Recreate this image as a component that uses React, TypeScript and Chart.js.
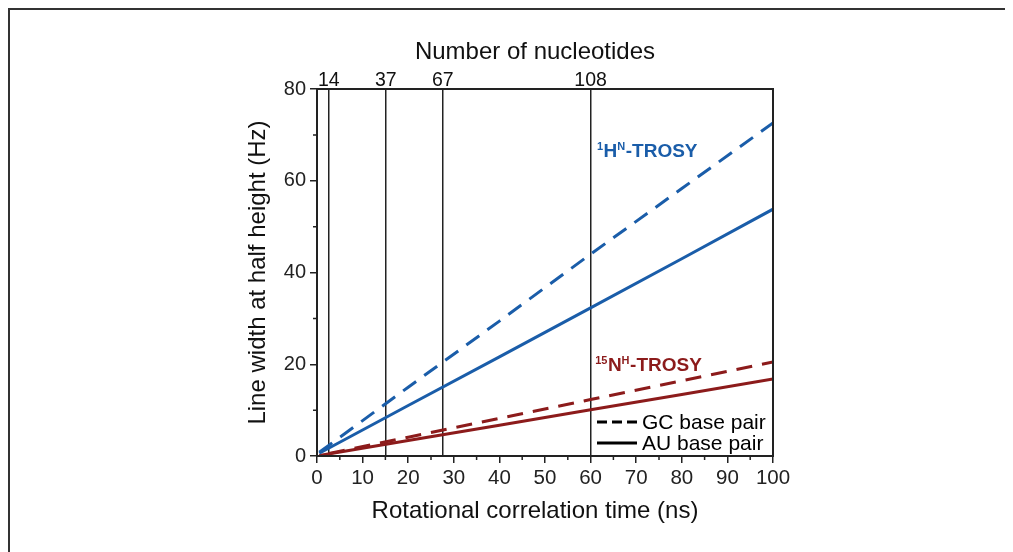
import React, { useEffect, useRef } from 'react';
import { Chart, registerables } from 'chart.js';

Chart.register(...registerables);

// Rotational correlation time (ns)
const timePoints = [0.5, 20, 40, 60, 80, 100];
// Line width at half height (Hz)
const hTrosyGC = [0.8, 15.0, 29.4, 44.0, 58.3, 72.6];
const hTrosyAU = [0.6, 11.0, 21.6, 32.3, 43.0, 53.8];
const nTrosyGC = [0.1, 4.1, 8.2, 12.3, 16.4, 20.5];
const nTrosyAU = [0.1, 3.4, 6.7, 10.1, 13.4, 16.8];

// Top axis: number of nucleotides at given correlation times
const nucleotideTimes = [2.6, 15.1, 27.6, 60];
const nucleotideCounts = ['14', '37', '67', '108'];

const legendLabels = ['GC base pair', 'AU base pair'];

const BLUE = '#1a5da9';
const RED = '#8c1b1b';
const FONT = "'Liberation Sans', Arial, sans-serif";

const toXY = (ys: number[]) => ys.map((y, i) => ({ x: timePoints[i], y }));

const decorPlugin = {
  id: 'decor',
  afterDatasetsDraw(chart: any) {
    const { ctx, scales } = chart;
    const x = scales.x;
    const y = scales.y;
    const drawLabel = (
      parts: { t: string; sup?: boolean }[],
      dx: number,
      dy: number,
      color: string
    ) => {
      let px = x.getPixelForValue(dx);
      const py = y.getPixelForValue(dy);
      ctx.save();
      ctx.fillStyle = color;
      ctx.textBaseline = 'alphabetic';
      ctx.textAlign = 'left';
      for (const p of parts) {
        ctx.font = p.sup ? `bold 11px ${FONT}` : `bold 19px ${FONT}`;
        ctx.fillText(p.t, px, p.sup ? py - 7 : py);
        px += ctx.measureText(p.t).width + (p.sup ? 0.5 : 0);
      }
      ctx.restore();
    };
    drawLabel(
      [{ t: '1', sup: true }, { t: 'H' }, { t: 'N', sup: true }, { t: '-TROSY' }],
      61.4,
      65.2,
      BLUE
    );
    drawLabel(
      [{ t: '15', sup: true }, { t: 'N' }, { t: 'H', sup: true }, { t: '-TROSY' }],
      61.0,
      18.6,
      RED
    );
  },
  afterDraw(chart: any) {
    const { ctx, chartArea: a, scales } = chart;
    const x = scales.x;
    const y = scales.y;
    ctx.save();
    // outer frame (top and left)
    ctx.fillStyle = '#333';
    ctx.fillRect(0, 0, chart.width, 2);
    ctx.fillRect(0, 0, 2, chart.height);
    // plot box
    ctx.strokeStyle = '#222';
    ctx.lineWidth = 2;
    ctx.strokeRect(a.left, a.top, a.right - a.left, a.bottom - a.top);
    // minor ticks
    ctx.lineWidth = 1.5;
    ctx.beginPath();
    for (let v = 5; v < 100; v += 10) {
      const px = x.getPixelForValue(v);
      ctx.moveTo(px, a.bottom);
      ctx.lineTo(px, a.bottom + 4);
    }
    for (let v = 10; v < 80; v += 20) {
      const py = y.getPixelForValue(v);
      ctx.moveTo(a.left, py);
      ctx.lineTo(a.left - 4, py);
    }
    ctx.stroke();
    // legend
    const rows = [
      { label: legendLabels[0], dash: [10, 5], yy: a.bottom - 34 },
      { label: legendLabels[1], dash: [], yy: a.bottom - 13 },
    ];
    ctx.font = `21px ${FONT}`;
    ctx.textBaseline = 'middle';
    ctx.textAlign = 'left';
    ctx.fillStyle = '#000';
    for (const r of rows) {
      ctx.strokeStyle = '#000';
      ctx.lineWidth = 3;
      ctx.setLineDash(r.dash);
      ctx.beginPath();
      ctx.moveTo(a.right - 176, r.yy);
      ctx.lineTo(a.right - 136, r.yy);
      ctx.stroke();
      ctx.setLineDash([]);
      ctx.fillText(r.label, a.right - 131, r.yy + 1);
    }
    ctx.restore();
  },
};

export default function App() {
  const ref = useRef<HTMLCanvasElement>(null);

  useEffect(() => {
    if (!ref.current) return;
    const chart = new Chart(ref.current, {
      type: 'line',
      data: {
        datasets: [
          {
            label: '1HN-TROSY GC',
            data: toXY(hTrosyGC),
            borderColor: BLUE,
            borderWidth: 3,
            borderDash: [16, 10],
            pointRadius: 0,
            fill: false,
          },
          {
            label: '1HN-TROSY AU',
            data: toXY(hTrosyAU),
            borderColor: BLUE,
            borderWidth: 3,
            pointRadius: 0,
            fill: false,
          },
          {
            label: '15NH-TROSY GC',
            data: toXY(nTrosyGC),
            borderColor: RED,
            borderWidth: 3,
            borderDash: [16, 10],
            borderDashOffset: 16,
            pointRadius: 0,
            fill: false,
          },
          {
            label: '15NH-TROSY AU',
            data: toXY(nTrosyAU),
            borderColor: RED,
            borderWidth: 3,
            pointRadius: 0,
            fill: false,
          },
        ],
      },
      options: {
        animation: false,
        responsive: true,
        maintainAspectRatio: false,
        layout: { padding: { left: 232, right: 240, top: 26, bottom: 22 } },
        plugins: { legend: { display: false }, tooltip: { enabled: false } },
        scales: {
          x: {
            type: 'linear',
            position: 'bottom',
            min: 0,
            max: 100,
            afterFit: (s: any) => {
              s.height = 74;
            },
            ticks: {
              stepSize: 5,
              autoSkip: false,
              maxRotation: 0,
              padding: 3,
              color: '#222',
              font: { family: FONT, size: 20.5 },
              callback: (v: any) => (Number(v) % 10 === 0 ? String(v) : ''),
            },
            grid: {
              drawOnChartArea: false,
              drawTicks: true,
              tickLength: 7,
              lineWidth: 1.5,
              color: (c: any) =>
                c.tick && c.tick.value % 10 === 0 ? '#222' : 'rgba(0,0,0,0)',
            },
            border: { display: true, color: '#222', width: 2 },
            title: {
              display: true,
              text: 'Rotational correlation time (ns)   ',
              color: '#111',
              font: { family: FONT, size: 24 },
              padding: { top: 4, bottom: 4 },
            },
          },
          x2: {
            type: 'linear',
            position: 'top',
            display: true,
            min: 0,
            max: 100,
            afterFit: (s: any) => {
              s.height = 55;
            },
            afterBuildTicks: (s: any) => {
              s.ticks = nucleotideTimes.map((v) => ({ value: v }));
            },
            ticks: {
              autoSkip: false,
              maxRotation: 0,
              padding: -3,
              color: '#111',
              font: { family: FONT, size: 19.5 },
              callback: (_v: any, i: number) => nucleotideCounts[i],
            },
            grid: {
              drawOnChartArea: true,
              drawTicks: false,
              color: '#222',
              lineWidth: 1.5,
            },
            border: { display: true, color: '#222', width: 2 },
            title: {
              display: true,
              text: 'Number of nucleotides   ',
              color: '#111',
              font: { family: FONT, size: 24 },
              padding: { top: 4, bottom: 4 },
            },
          },
          y: {
            type: 'linear',
            min: 0,
            max: 80,
            afterFit: (s: any) => {
              s.width = 77;
            },
            ticks: {
              stepSize: 10,
              autoSkip: false,
              padding: 4,
              color: '#222',
              font: { family: FONT, size: 20 },
              callback: (v: any) => (Number(v) % 20 === 0 ? String(v) : ''),
            },
            grid: {
              drawOnChartArea: false,
              drawTicks: true,
              tickLength: 7,
              lineWidth: 1.5,
              color: (c: any) =>
                c.tick && c.tick.value % 20 === 0 ? '#222' : 'rgba(0,0,0,0)',
            },
            border: { display: true, color: '#222', width: 2 },
            title: {
              display: true,
              text: 'Line width at half height (Hz)',
              color: '#111',
              font: { family: FONT, size: 24 },
              padding: { top: 4, bottom: 4 },
            },
          },
        },
      } as any,
      plugins: [decorPlugin],
    });
    return () => chart.destroy();
  }, []);

  return (
    <div style={{ position: 'relative', width: 1005, height: 544 }}>
      <canvas ref={ref} />
    </div>
  );
}
